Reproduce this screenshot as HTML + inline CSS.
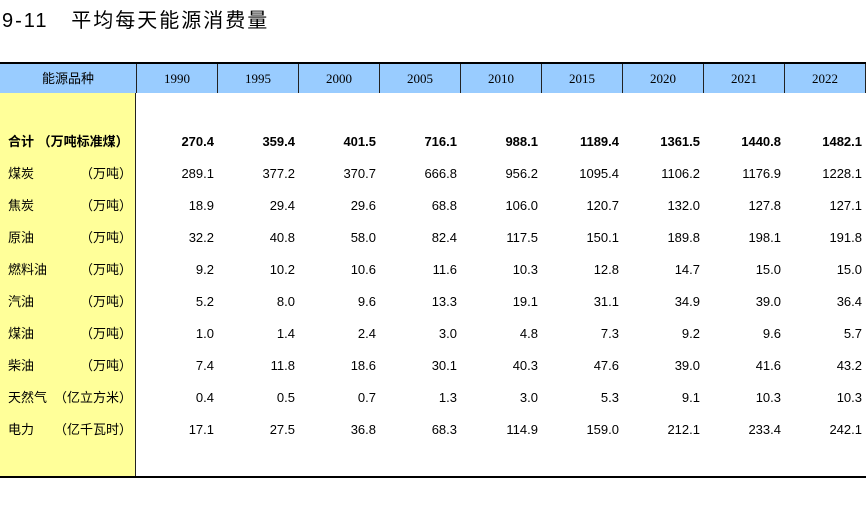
<!DOCTYPE html>
<html><head><meta charset="utf-8"><style>
body{margin:0;width:866px;height:510px;background:#fff;position:relative;overflow:hidden;font-family:"Liberation Sans","Noto Sans CJK SC",sans-serif}
.a{position:absolute}
.title{left:2px;top:4px;font-size:20px;color:#000;letter-spacing:2px}
.hdr{top:64px;height:29px;background:#99ccff;border-right:1px solid #222;box-sizing:border-box;font-family:"Liberation Serif","Noto Serif CJK SC",serif;font-size:13px;text-align:center;line-height:29px}
.v{font-size:13px;text-align:right;width:78px;height:20px;line-height:20px}
.b{font-weight:bold}
.lab{left:8px;font-size:13px;width:124px;height:20px;line-height:20px}
.lab span.u{position:absolute;right:0}
</style></head><body>
<div class="a title">9-11&nbsp;&nbsp;&nbsp;平均每天能源消费量</div>
<div class="a" style="left:0;top:62px;width:866px;height:2px;background:#000"></div>
<div class="a" style="left:0;top:93px;width:136px;height:383px;background:#ffff99;border-right:1px solid #222;box-sizing:border-box"></div>
<div class="a" style="left:0;top:476px;width:866px;height:2px;background:#000"></div>
<div id="t"></div>
<script>
const years=["1990","1995","2000","2005","2010","2015","2020","2021","2022"];
const names=["合计 （万吨标准煤）","煤炭","焦炭","原油","燃料油","汽油","煤油","柴油","天然气","电力"];
const units=["","（万吨）","（万吨）","（万吨）","（万吨）","（万吨）","（万吨）","（万吨）","（亿立方米）","（亿千瓦时）"];
const r0=["270.4","359.4","401.5","716.1","988.1","1189.4","1361.5","1440.8","1482.1"];
const r1=["289.1","377.2","370.7","666.8","956.2","1095.4","1106.2","1176.9","1228.1"];
const r2=["18.9","29.4","29.6","68.8","106.0","120.7","132.0","127.8","127.1"];
const r3=["32.2","40.8","58.0","82.4","117.5","150.1","189.8","198.1","191.8"];
const r4=["9.2","10.2","10.6","11.6","10.3","12.8","14.7","15.0","15.0"];
const r5=["5.2","8.0","9.6","13.3","19.1","31.1","34.9","39.0","36.4"];
const r6=["1.0","1.4","2.4","3.0","4.8","7.3","9.2","9.6","5.7"];
const r7=["7.4","11.8","18.6","30.1","40.3","47.6","39.0","41.6","43.2"];
const r8=["0.4","0.5","0.7","1.3","3.0","5.3","9.1","10.3","10.3"];
const r9=["17.1","27.5","36.8","68.3","114.9","159.0","212.1","233.4","242.1"];
const rows=[r0,r1,r2,r3,r4,r5,r6,r7,r8,r9];
const t=document.getElementById('t');
function colX(i){return 136+i*81;}
let h=document.createElement('div');h.className='a hdr';h.style.left='0px';h.style.width='137px';
h.style.fontFamily='"Liberation Sans","Noto Sans CJK SC",sans-serif';h.style.fontSize='13px';h.textContent='能源品种';


t.appendChild(h);
years.forEach((y,i)=>{const d=document.createElement('div');d.className='a hdr';d.style.left=(colX(i)+1)+'px';
d.style.width=(i==8?866-colX(i)-1:81)+'px';d.textContent=y;


t.appendChild(d);});
rows.forEach((r,ri)=>{const top=132+ri*32;
const l=document.createElement('div');l.className='a lab'+(ri==0?' b':'');l.style.top=top+'px';
l.innerHTML=ri==0?names[0]:names[ri]+'<span class="u">'+units[ri]+'</span>';


t.appendChild(l);
r.forEach((v,ci)=>{const c=document.createElement('div');c.className='a v'+(ri==0?' b':'');
c.style.top=top+'px';c.style.left=(colX(ci)+81-3-78)+'px';c.textContent=v;


t.appendChild(c);});});
</script>
</body></html>
